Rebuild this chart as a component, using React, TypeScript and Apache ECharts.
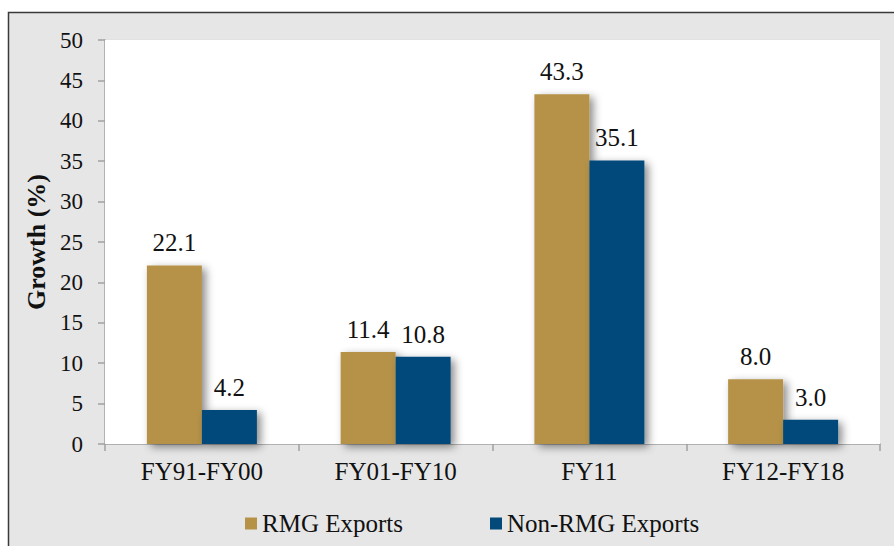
import React, { useEffect, useRef } from "react";
import * as echarts from "echarts";

const categories = ["FY91-FY00", "FY01-FY10", "FY11", "FY12-FY18"];
const rmgExports = [22.1, 11.4, 43.3, 8.0];
const nonRmgExports = [4.2, 10.8, 35.1, 3.0];
const seriesNames = ["RMG Exports", "Non-RMG Exports"];
const yTicks = { min: 0, max: 50, interval: 5 };

const FONT = "Liberation Serif, Times New Roman, serif";

export default function App() {
  const ref = useRef<HTMLDivElement>(null);
  useEffect(() => {
    document.body.style.margin = "0";
    if (!ref.current) return;
    const chart = echarts.init(ref.current, undefined, { renderer: "svg" });
    const shadow = {
      shadowBlur: 8,
      shadowOffsetX: 4,
      shadowOffsetY: 3,
      shadowColor: "rgba(0,0,0,0.45)",
    };
    const label = {
      show: true,
      position: "top" as const,
      distance: 10,
      fontFamily: FONT,
      fontSize: 25,
      color: "#111",
      formatter: (p: any) => Number(p.value).toFixed(1),
    };
    chart.setOption({
      animation: false,
      textStyle: { fontFamily: FONT },
      graphic: [
        {
          type: "rect",
          z: -10,
          shape: { x: 8.5, y: 12.5, width: 920, height: 600 },
          style: { fill: "#e6e6e6", stroke: "#3a3a3a", lineWidth: 1.5 },
          silent: true,
        },
      ],
      grid: {
        left: 105,
        right: 14,
        top: 40,
        bottom: 102,
        show: true,
        backgroundColor: "#ffffff",
        borderWidth: 0,
        z: 1,
      },
      legend: {
        left: 240,
        top: 506,
        icon: "rect",
        itemWidth: 12,
        itemHeight: 12,
        itemGap: 87,
        textStyle: { fontFamily: FONT, fontSize: 25, color: "#111" },
        data: seriesNames,
      },
      xAxis: {
        type: "category",
        data: categories,
        axisLine: { lineStyle: { color: "#a0a0a0", width: 1.5 } },
        axisTick: { show: true, length: 7, lineStyle: { color: "#a0a0a0", width: 1.5 } },
        axisLabel: { fontFamily: FONT, fontSize: 25, color: "#111", margin: 15 },
      },
      yAxis: {
        type: "value",
        min: yTicks.min,
        max: yTicks.max,
        interval: yTicks.interval,
        name: "Growth (%)",
        nameLocation: "middle",
        nameGap: 50,
        nameTextStyle: { fontFamily: FONT, fontSize: 26, fontWeight: "bold", color: "#111" },
        axisLine: { show: true, lineStyle: { color: "#a0a0a0", width: 1.5 } },
        axisTick: { show: true, length: 7, lineStyle: { color: "#a0a0a0", width: 1.5 } },
        axisLabel: { fontFamily: FONT, fontSize: 23, color: "#111", margin: 22 },
        splitLine: { lineStyle: { color: "#e0e0e0", width: 1.5 } },
      },
      series: [
        {
          name: seriesNames[0],
          type: "bar",
          data: rmgExports,
          barWidth: 55,
          barGap: "0%",
          itemStyle: { color: "#b59246", ...shadow },
          label,
        },
        {
          name: seriesNames[1],
          type: "bar",
          data: nonRmgExports,
          barWidth: 55,
          barGap: "0%",
          itemStyle: { color: "#03497a", ...shadow },
          label,
        },
      ],
    });
    return () => chart.dispose();
  }, []);
  return <div ref={ref} style={{ width: 894, height: 546 }} />;
}
